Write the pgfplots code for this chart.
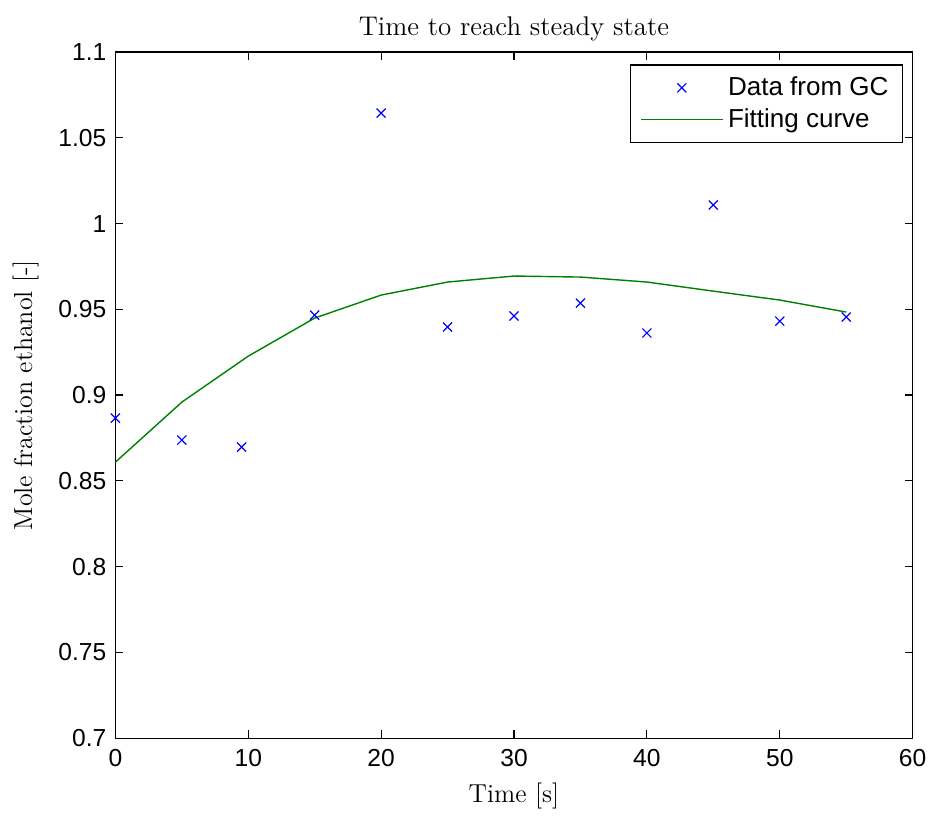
\documentclass[border=0pt]{standalone}
\usepackage{fontspec}
\usepackage{pgfplots}
\pgfplotsset{compat=1.18}
\newfontfamily\helv{Liberation Sans}

% measured mole fractions (GC) and the fitted curve
\pgfplotstableread{
t    x
0    0.8866
5    0.8738
9.5  0.8697
15   0.9466
20   1.0644
25   0.9397
30   0.9461
35   0.9536
40   0.9362
45   1.0108
50   0.9431
55   0.9455
}\gcdata

\pgfplotstableread{
t    x
0    0.8609
5    0.8959
10   0.9227
15   0.9449
20   0.9583
25   0.9659
30   0.9694
35   0.9688
40   0.9659
45   0.9606
50   0.9554
55   0.9484
}\fitdata

\pgfplotsset{
  marklegend/.style={legend image code/.code={%
    \draw[##1] plot coordinates {(0.72cm,0cm)};}},
  linelegend/.style={legend image code/.code={%
    \draw[##1] (0cm,0cm) -- (1.45cm,0cm);}},
}

\begin{document}
\begin{tikzpicture}
\begin{axis}[
  scale only axis,
  width=398.5pt, height=343pt,
  xmin=0, xmax=60, ymin=0.7, ymax=1.1,
  xtick={0,10,...,60},
  ytick={0.7,0.75,...,1.1},
  tick align=inside,
  major tick length=4pt,
  minor tick num=0,
  axis line style={line width=0.6pt},
  every tick/.style={black, line width=0.6pt},
  /pgf/number format/assume math mode=true,
  yticklabel style={/pgf/number format/fixed, /pgf/number format/precision=2, xshift=-1pt},
  xticklabel style={yshift=-2pt},
  ticklabel style={font=\fontsize{12.3}{14}\selectfont\helv},
  title={Time to reach steady state},
  title style={font=\fontsize{13.5}{15}\selectfont, yshift=-4pt},
  xlabel={Time [s]},
  ylabel={Mole fraction ethanol [-]},
  label style={font=\fontsize{13}{15}\selectfont},
  xlabel style={yshift=-1.5pt},
  ylabel style={yshift=3pt},
  legend style={at={(rel axis cs:0.988,0.982)}, anchor=north east,
    font=\fontsize{13}{15}\selectfont\helv, draw=black, line width=0.6pt,
    inner xsep=5pt, inner ysep=4pt, row sep=1pt},
  legend cell align=left,
]
\addplot[only marks, mark=x, mark size=3.2pt, blue, line width=0.6pt, marklegend]
  table[x=t, y=x] {\gcdata};
\addlegendentry{Data from GC}
\addplot[line width=0.7pt, color={rgb,255:red,0;green,128;blue,0}, mark=none, linelegend]
  table[x=t, y=x] {\fitdata};
\addlegendentry{Fitting curve}
\end{axis}
% a little white margin above and to the left
\path ([xshift=-3pt,yshift=5pt]current bounding box.north west);
\end{tikzpicture}
\end{document}
